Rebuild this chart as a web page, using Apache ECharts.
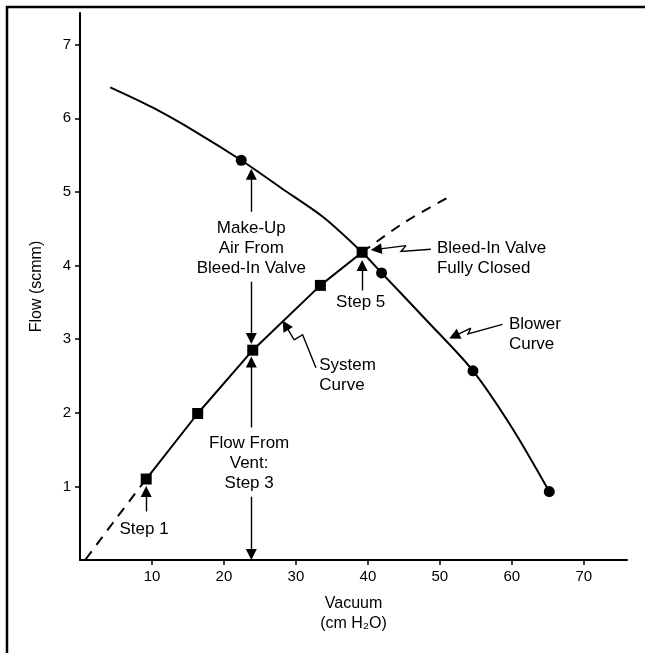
<!DOCTYPE html>
<html><head><meta charset="utf-8">
<script src="https://cdn.jsdelivr.net/npm/echarts@6/dist/echarts.min.js"></script>
<style>html,body{margin:0;padding:0;background:#fff}#c{width:645px;height:653px}</style>
</head><body><div id="c"></div>
<script>
// ---- data ----
const xTicks = [10, 20, 30, 40, 50, 60, 70];
const yTicks = [1, 2, 3, 4, 5, 6, 7];
const systemPoints = [[9.2, 1.1], [16.35, 1.99], [24.0, 2.85], [33.4, 3.73], [39.2, 4.18]];
const systemDashLow = [[0.8, 0.01], [5, 0.56], [9.2, 1.1]];
const systemDashHigh = [[39.2, 4.18], [45, 4.58], [51.8, 4.96]];
const blowerCurve = [[4.2, 6.42], [10, 6.15], [16, 5.82], [22.4, 5.43], [28, 5.05], [33.9, 4.65], [39.2, 4.18], [41.9, 3.90], [48, 3.27], [54.6, 2.57], [60, 1.80], [65.2, 0.93]];
const blowerPoints = [[22.4, 5.43], [41.9, 3.90], [54.6, 2.57], [65.2, 0.93]];
const arrowLines = [
  [[23.8, 4.73], [23.8, 5.24]],
  [[23.8, 3.78], [23.8, 3.01]],
  [[23.8, 1.80], [23.8, 2.69]],
  [[23.8, 0.86], [23.8, 0.075]],
  [[9.2, 0.66], [9.2, 0.93]],
  [[39.2, 3.66], [39.2, 4.0]]
];
const leaderLines = [
  [[32.78, 2.61], [30.93, 3.06], [29.76, 2.99], [28.54, 3.19]],
  [[48.75, 4.22], [44.6, 4.19], [45.3, 4.27], [41.16, 4.22]],
  [[58.7, 3.20], [53.9, 3.07], [54.3, 3.15], [51.99, 3.04]]
];
const centerLabels = [
  [23.8, 4.24, 'Make-Up\nAir From\nBleed-In Valve'],
  [23.5, 1.32, 'Flow From\nVent:\nStep 3'],
  [8.9, 0.42, 'Step 1'],
  [39.0, 3.50, 'Step 5']
];
const leftLabels = [
  [33.24, 2.51, 'System\nCurve'],
  [49.6, 4.10, 'Bleed-In Valve\nFully Closed'],
  [59.6, 3.07, 'Blower\nCurve']
];
const xName = 'Vacuum\n(cm H\u2082O)';
const yName = 'Flow (scmm)';

const FONT = 'Liberation Sans, Arial, Helvetica, sans-serif';
const chart = echarts.init(document.getElementById('c'), null, {renderer: 'canvas'});

function labelSeries(data, align) {
  return {
    type: 'scatter', data: data, symbolSize: 0, silent: true, z: 10,
    itemStyle: {opacity: 1, color: '#000'},
    label: {
      show: true, position: 'inside', align: align, verticalAlign: 'middle',
      formatter: p => p.data[2], fontFamily: FONT, fontSize: 17, lineHeight: 20,
      color: '#000', textBorderWidth: 0, opacity: 1
    }
  };
}

// polyline parts (no arrow) and last legs (with arrow)
const leaderBodies = leaderLines.map(c => ({coords: c.slice(0, c.length - 1)}));
const arrowSegments = arrowLines.map(c => ({coords: c}))
  .concat(leaderLines.map(c => ({coords: c.slice(c.length - 2)})));

chart.setOption({
  animation: false,
  backgroundColor: '#fff',
  grid: {left: 80, right: 18, top: 13, bottom: 93, containLabel: false},
  xAxis: {
    type: 'value', min: 0, max: 76, interval: 10,
    name: xName, nameLocation: 'middle', nameGap: 34,
    nameTextStyle: {fontFamily: FONT, fontSize: 16, lineHeight: 20, color: '#000', verticalAlign: 'top'},
    axisLine: {show: true, onZero: false, lineStyle: {color: '#000', width: 2}},
    axisTick: {show: true, length: 5, customValues: xTicks, lineStyle: {color: '#000', width: 1.5}},
    axisLabel: {customValues: xTicks, margin: 9, fontFamily: FONT, fontSize: 15, color: '#000'},
    splitLine: {show: false}
  },
  yAxis: {
    type: 'value', min: 0, max: 7.43, interval: 1,
    name: yName, nameLocation: 'middle', nameGap: 35, nameRotate: 90,
    nameTextStyle: {fontFamily: FONT, fontSize: 16, color: '#000'},
    axisLine: {show: true, onZero: false, lineStyle: {color: '#000', width: 2}},
    axisTick: {show: true, length: 5, customValues: yTicks, lineStyle: {color: '#000', width: 1.5}},
    axisLabel: {customValues: yTicks, margin: 9, fontFamily: FONT, fontSize: 15, color: '#000'},
    splitLine: {show: false}
  },
  graphic: [
    {type: 'line', shape: {x1: 7, y1: 6, x2: 7, y2: 653}, style: {stroke: '#000', lineWidth: 2.5}},
    {type: 'line', shape: {x1: 6, y1: 7, x2: 645, y2: 7}, style: {stroke: '#000', lineWidth: 2.5}}
  ],
  series: [
    {type: 'line', data: blowerCurve, smooth: 0.3, showSymbol: false, lineStyle: {color: '#000', width: 2}, silent: true, z: 2},
    {type: 'line', data: systemDashLow, smooth: 0.3, showSymbol: false, lineStyle: {color: '#000', width: 2, type: [10, 8]}, silent: true, z: 2},
    {type: 'line', data: systemDashHigh, smooth: 0.3, showSymbol: false, lineStyle: {color: '#000', width: 2, type: [10, 8]}, silent: true, z: 2},
    {type: 'line', data: systemPoints, showAllSymbol: true, symbol: 'rect', symbolSize: 11,
      itemStyle: {color: '#000', opacity: 1}, lineStyle: {color: '#000', width: 2}, silent: true, z: 4},
    {type: 'scatter', data: blowerPoints, symbol: 'circle', symbolSize: 11, itemStyle: {color: '#000', opacity: 1}, silent: true, z: 4},
    {type: 'lines', coordinateSystem: 'cartesian2d', polyline: true, silent: true, z: 5,
      lineStyle: {color: '#000', width: 1.4, opacity: 1},
      data: leaderBodies},
    {type: 'lines', coordinateSystem: 'cartesian2d', polyline: false, silent: true, z: 5,
      symbol: ['none', 'triangle'], symbolSize: [5, 11],
      itemStyle: {color: '#000'},
      lineStyle: {color: '#000', width: 1.4, opacity: 1, curveness: 0},
      data: arrowSegments},
    labelSeries(centerLabels, 'center'),
    labelSeries(leftLabels, 'left')
  ]
});
</script>
</body></html>
